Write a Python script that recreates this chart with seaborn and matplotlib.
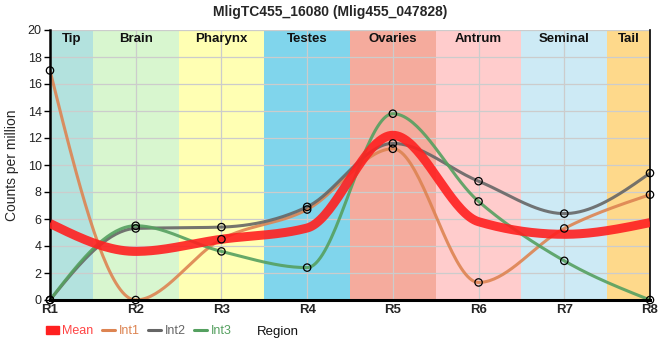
import numpy as np
import pandas as pd
import matplotlib
matplotlib.use('Agg')
import matplotlib.pyplot as plt
import seaborn as sns
from matplotlib.patches import Patch
from matplotlib.lines import Line2D

# Datos
regiones = ['R1', 'R2', 'R3', 'R4', 'R5', 'R6', 'R7', 'R8']
int1 = [17.0, 0.0, 4.5, 6.7, 11.2, 1.3, 5.3, 7.8]
int2 = [0.0, 5.3, 5.4, 6.9, 11.6, 8.8, 6.4, 9.4]
int3 = [0.0, 5.5, 3.6, 2.4, 13.8, 7.3, 2.9, 0.0]
media = list(np.mean([int1, int2, int3], axis=0))

tejidos = ['Tip', 'Brain', 'Pharynx', 'Testes', 'Ovaries', 'Antrum', 'Seminal', 'Tail']
colores_tejido = ['#b3e2de', '#d8f6cf', '#ffffb3', '#80d5ec', '#f5ab9d', '#ffcccc', '#cdeaf5', '#fed98b']

COLORES = {'Mean': '#ff2020', 'Int1': '#dd8452', 'Int2': '#666666', 'Int3': '#55a060'}


def monotone_x(y, n=40):
    """Curva monotona (como d3.curveMonotoneX) para dibujar la linea."""
    y = np.asarray(y, dtype=float)
    x = np.arange(len(y), dtype=float)
    s = np.diff(y)
    t = np.zeros(len(y))
    for i in range(1, len(y) - 1):
        s0, s1 = s[i - 1], s[i]
        p = (s0 + s1) / 2
        t[i] = (np.sign(s0) + np.sign(s1)) * min(abs(s0), abs(s1), 0.5 * abs(p))
    t[0] = (3 * s[0] - t[1]) / 2
    t[-1] = (3 * s[-1] - t[-2]) / 2
    xs, ys = [], []
    for i in range(len(y) - 1):
        u = np.linspace(0, 1, n)
        h00 = 2 * u**3 - 3 * u**2 + 1
        h10 = u**3 - 2 * u**2 + u
        h01 = -2 * u**3 + 3 * u**2
        h11 = u**3 - u**2
        xs.append(x[i] + u)
        ys.append(h00 * y[i] + h10 * t[i] + h01 * y[i + 1] + h11 * t[i + 1])
    return np.concatenate(xs), np.concatenate(ys)


sns.set_style('white')
plt.rcParams['font.family'] = ['Liberation Sans', 'DejaVu Sans']

fig = plt.figure(figsize=(6.6, 3.6), dpi=100)
ax = fig.add_axes([50 / 660, 60 / 360, 600 / 660, 270 / 360])

# Bandas de tejido
for i, (nombre, col) in enumerate(zip(tejidos, colores_tejido)):
    x0 = max(i - 0.5, 0)
    x1 = min(i + 0.5, len(regiones) - 1)
    ax.axvspan(x0, x1, color=col, zorder=0, lw=0)
    ax.text((x0 + x1) / 2, 19.3, nombre, ha='center', va='center',
            fontsize=9.5, fontweight='bold', color='#111111')

# Curvas
series = {'Mean': media, 'Int1': int1, 'Int2': int2, 'Int3': int3}
for nombre, vals in series.items():
    xs, ys = monotone_x(vals)
    lw = 6.5 if nombre == 'Mean' else 2.2
    ax.plot(xs, ys, color=COLORES[nombre], lw=lw, alpha=0.9, zorder=3 if nombre == 'Mean' else 2,
            solid_capstyle='butt')

# Marcadores de los valores individuales
df = pd.DataFrame({'x': list(range(len(regiones))) * 3, 'y': int1 + int2 + int3})
sns.scatterplot(data=df, x='x', y='y', ax=ax, marker='o', s=28, facecolor='none',
                edgecolor='black', linewidth=0.9, zorder=4, clip_on=False)

ax.set_xlim(0, len(regiones) - 1)
ax.set_ylim(0, 20)
ax.set_xticks(range(len(regiones)))
ax.set_xticklabels(regiones, fontsize=9.5, fontweight='bold')
ax.set_yticks(range(0, 21, 2))
ax.tick_params(axis='y', labelsize=9, length=4, width=1, color='black', left=True, pad=2,
               labelcolor='#222222')
ax.tick_params(axis='x', length=0, pad=3)
ax.set_axisbelow(True)
ax.grid(True, color='#cccccc', lw=0.9)
ax.set_ylabel('Counts per million', fontsize=10, labelpad=6)
ax.set_xlabel('')

for lado in ['left', 'bottom', 'right']:
    ax.spines[lado].set_visible(True)
    ax.spines[lado].set_color('black')
ax.spines['left'].set_linewidth(1.8)
ax.spines['bottom'].set_linewidth(2.2)
ax.spines['right'].set_linewidth(1.2)
ax.spines['top'].set_visible(False)

fig.suptitle('MligTC455_16080 (Mlig455_047828)', fontsize=10, fontweight='bold', y=0.985)
fig.text(278 / 660, 1 - 332 / 360, 'Region', ha='center', va='center', fontsize=9.5, color='#111111')

# Leyenda inferior
handles = [Patch(color=COLORES['Mean'])] + [Line2D([0], [0], color=COLORES[k], lw=2.2) for k in ['Int1', 'Int2', 'Int3']]
leg = fig.legend(handles, ['Mean', 'Int1', 'Int2', 'Int3'], loc='center left',
                 bbox_to_anchor=(36 / 660, 1 - 331 / 360), ncol=4, frameon=False, fontsize=9,
                 handlelength=1.0, handletextpad=0.3, columnspacing=0.7, handleheight=0.6,
                 borderpad=0.3)
for txt, k in zip(leg.get_texts(), ['Mean', 'Int1', 'Int2', 'Int3']):
    txt.set_color('#ff4444' if k == 'Mean' else COLORES[k])

fig.savefig('out.png', dpi=100)
